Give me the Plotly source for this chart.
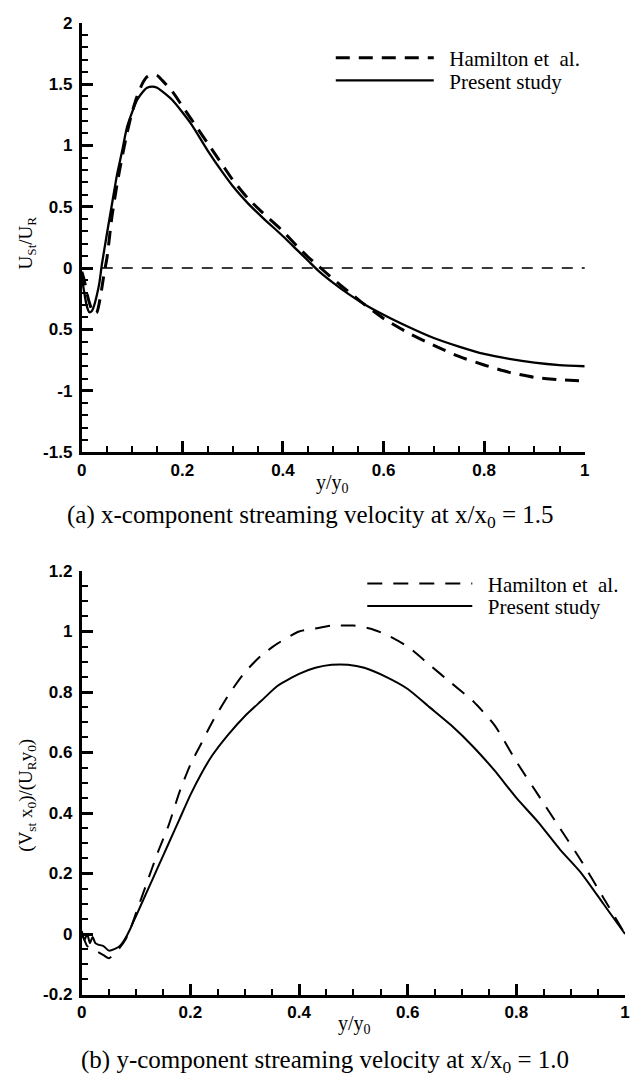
import plotly.graph_objects as go

W, H = 634, 1089

# ---------------- data: panel (a) x-component, x/x0 = 1.5 ----------------
a_ham_x = [0, 0.005, 0.01, 0.015, 0.02, 0.025, 0.03, 0.035, 0.04, 0.045, 0.05, 0.06, 0.07, 0.08,
           0.09, 0.10, 0.11, 0.12, 0.13, 0.14, 0.15, 0.16, 0.18, 0.20, 0.22, 0.25, 0.28, 0.30,
           0.33, 0.36, 0.40, 0.43, 0.45, 0.47, 0.50, 0.53, 0.56, 0.60, 0.65, 0.70, 0.75, 0.80,
           0.85, 0.90, 0.95, 1.0]
a_ham_y = [-0.03, -0.10, -0.20, -0.28, -0.34, -0.37, -0.36, -0.28, -0.16, -0.03, 0.08, 0.42, 0.68, 0.90,
           1.10, 1.27, 1.40, 1.50, 1.56, 1.58, 1.57, 1.53, 1.44, 1.32, 1.20, 1.02, 0.84, 0.72,
           0.57, 0.45, 0.30, 0.17, 0.09, 0.02, -0.09, -0.19, -0.29, -0.41, -0.53, -0.63, -0.72, -0.79,
           -0.85, -0.89, -0.91, -0.92]

a_pre_x = [0, 0.005, 0.01, 0.015, 0.02, 0.025, 0.03, 0.035, 0.04, 0.05, 0.06, 0.07, 0.08, 0.09,
           0.10, 0.11, 0.12, 0.13, 0.14, 0.15, 0.16, 0.18, 0.20, 0.22, 0.25, 0.28, 0.30, 0.33,
           0.36, 0.40, 0.43, 0.45, 0.47, 0.50, 0.53, 0.56, 0.60, 0.65, 0.70, 0.75, 0.80, 0.85,
           0.90, 0.95, 1.0]
a_pre_y = [-0.07, -0.20, -0.31, -0.36, -0.35, -0.30, -0.22, -0.12, 0.03, 0.28, 0.52, 0.76, 0.95, 1.15,
           1.27, 1.37, 1.43, 1.47, 1.48, 1.47, 1.44, 1.37, 1.27, 1.16, 0.96, 0.78, 0.67, 0.53,
           0.41, 0.26, 0.14, 0.06, -0.02, -0.12, -0.21, -0.29, -0.38, -0.48, -0.57, -0.64, -0.70, -0.74,
           -0.77, -0.79, -0.80]

# ---------------- data: panel (b) y-component, x/x0 = 1.0 ----------------
b_ham_x = [0, 0.005, 0.01, 0.02, 0.03, 0.04, 0.05, 0.06, 0.07, 0.08, 0.09, 0.10, 0.12, 0.14,
           0.16, 0.18, 0.20, 0.22, 0.24, 0.27, 0.30, 0.33, 0.36, 0.40, 0.43, 0.46, 0.48, 0.50,
           0.53, 0.56, 0.60, 0.64, 0.68, 0.72, 0.76, 0.80, 0.84, 0.88, 0.92, 0.96, 1.0]
b_ham_y = [0.0, -0.02, -0.04, -0.05, -0.06, -0.07, -0.08, -0.065, -0.045, -0.02, 0.02, 0.07, 0.17, 0.27,
           0.36, 0.47, 0.56, 0.63, 0.70, 0.79, 0.865, 0.92, 0.96, 1.0, 1.01, 1.02, 1.02, 1.02,
           1.01, 0.99, 0.95, 0.89, 0.83, 0.77, 0.69, 0.57, 0.46, 0.35, 0.24, 0.12, 0.0]

b_pre_x = [0, 0.005, 0.01, 0.015, 0.02, 0.025, 0.03, 0.04, 0.05, 0.06, 0.07, 0.08, 0.09, 0.10,
           0.12, 0.14, 0.16, 0.18, 0.20, 0.22, 0.24, 0.27, 0.30, 0.33, 0.36, 0.40, 0.43, 0.46,
           0.49, 0.52, 0.56, 0.60, 0.64, 0.68, 0.72, 0.76, 0.80, 0.84, 0.88, 0.92, 0.96, 1.0]
b_pre_y = [0.01, -0.02, 0.0, -0.03, -0.01, -0.03, -0.035, -0.04, -0.055, -0.05, -0.04, -0.015, 0.02, 0.06,
           0.14, 0.22, 0.30, 0.38, 0.46, 0.53, 0.59, 0.66, 0.72, 0.77, 0.82, 0.86, 0.88, 0.89,
           0.89, 0.88, 0.85, 0.81, 0.75, 0.69, 0.62, 0.54, 0.45, 0.37, 0.28, 0.20, 0.10, 0.0]

# ---------------- names and tick labels ----------------
series_names = ["Hamilton et\u00a0 al.", "Present study"]
x_tickvals = [0, 0.2, 0.4, 0.6, 0.8, 1.0]
x_ticktext = ["0", "0.2", "0.4", "0.6", "0.8", "1"]
a_y_tickvals = [-1.5, -1.0, -0.5, 0.0, 0.5, 1.0, 1.5, 2.0]
a_y_ticktext = ["-1.5", "-1", "0.5", "0", "0.5", "1", "1.5", "2"]
b_y_tickvals = [-0.2, 0.0, 0.2, 0.4, 0.6, 0.8, 1.0, 1.2]
b_y_ticktext = ["-0.2", "0", "0.2", "0.4", "0.6", "0.8", "1", "1.2"]

x_minor = [round(0.05 * i, 2) for i in range(21)]
a_y_minor = [round(-1.5 + 0.1 * i, 2) for i in range(36)]
b_y_minor = [round(-0.2 + 0.05 * i, 2) for i in range(29)]

SERIF = "Liberation Serif, Times New Roman, serif"
SANS = "Liberation Sans, Arial, sans-serif"
GAP = "\u00a0\u00a0"  # spacing between legend sample and its text


def px(x):
    return x / W


def py(y):
    return 1 - y / H


fig = go.Figure()

fig.add_trace(go.Scatter(x=a_ham_x, y=a_ham_y, mode="lines", name=GAP + series_names[0],
                         line=dict(color="black", width=3, dash="14px,9px", shape="spline", smoothing=0.6),
                         xaxis="x", yaxis="y", legend="legend"))
fig.add_trace(go.Scatter(x=a_pre_x, y=a_pre_y, mode="lines", name=GAP + series_names[1],
                         line=dict(color="black", width=2.3, shape="spline", smoothing=0.6),
                         xaxis="x", yaxis="y", legend="legend2"))
fig.add_trace(go.Scatter(x=b_ham_x, y=b_ham_y, mode="lines", name=GAP + series_names[0],
                         line=dict(color="black", width=2, dash="15px,11px", shape="spline", smoothing=0.6),
                         xaxis="x2", yaxis="y2", legend="legend3"))
fig.add_trace(go.Scatter(x=b_pre_x, y=b_pre_y, mode="lines", name=GAP + series_names[1],
                         line=dict(color="black", width=2, shape="spline", smoothing=0.6),
                         xaxis="x2", yaxis="y2", legend="legend4"))

tickfont = dict(family=SANS, size=17, color="black", weight="bold")


def xaxis_cfg(domain, anchor):
    return dict(domain=domain, range=[0, 1], anchor=anchor, showline=True, linewidth=3,
                linecolor="black", mirror=False, showgrid=False, zeroline=False,
                ticks="inside", ticklen=11, tickwidth=3, tickcolor="black",
                tickmode="array", tickvals=x_tickvals, ticktext=x_ticktext, tickfont=tickfont,
                ticklabeloverflow="allow",
                minor=dict(tickmode="array", tickvals=x_minor, ticks="inside", ticklen=6,
                           tickwidth=2, tickcolor="black", showgrid=False))


def yaxis_cfg(domain, anchor, rng, tv, tt, minor):
    return dict(domain=domain, range=rng, anchor=anchor, showline=True, linewidth=3,
                linecolor="black", mirror=False, showgrid=False, zeroline=False,
                ticks="inside", ticklen=11, tickwidth=3, tickcolor="black",
                tickmode="array", tickvals=tv, ticktext=tt, tickfont=tickfont,
                ticklabelstandoff=3,
                minor=dict(tickmode="array", tickvals=minor, ticks="inside", ticklen=6,
                           tickwidth=2, tickcolor="black", showgrid=False))


legend_common = dict(bgcolor="rgba(0,0,0,0)", borderwidth=0, xanchor="left", yanchor="middle",
                     font=dict(family=SERIF, size=21, color="black"))

fig.update_layout(
    width=W, height=H, margin=dict(l=0, r=0, t=0, b=0),
    paper_bgcolor="white", plot_bgcolor="white", showlegend=True,
    xaxis=xaxis_cfg([px(78), px(589)], "y"),
    yaxis=yaxis_cfg([py(451), py(14)], "x", [-1.5, 2], a_y_tickvals, a_y_ticktext, a_y_minor),
    xaxis2=xaxis_cfg([px(78), px(630)], "y2"),
    yaxis2=yaxis_cfg([py(1003), py(572)], "x2", [-0.2, 1.2], b_y_tickvals, b_y_ticktext, b_y_minor),
    legend=dict(x=px(331), y=py(50), itemwidth=98, **legend_common),
    legend2=dict(x=px(331), y=py(73), itemwidth=98, **legend_common),
    legend3=dict(x=px(363), y=py(585), itemwidth=105, **legend_common),
    legend4=dict(x=px(363), y=py(608), itemwidth=105, **legend_common),
)

# zero reference line in panel (a)
fig.add_shape(type="line", xref="x domain", yref="y", x0=0, x1=1, y0=0, y1=0,
              line=dict(color="#3a3a3a", width=2, dash="11px,9px"), layer="below")

annots = [
    dict(text="U<sub>St</sub>/U<sub>R</sub>", x=px(22), y=py(238), textangle=-90, size=19),
    dict(text="y/y<sub>0</sub>", x=px(333), y=py(483), textangle=0, size=20),
    dict(text="(V<sub>st</sub> x<sub>0</sub>)/(U<sub>R</sub>y<sub>0</sub>)", x=px(22), y=py(800),
         textangle=-90, size=19),
    dict(text="y/y<sub>0</sub>", x=px(355), y=py(1034), textangle=0, size=20),
]
for a in annots:
    fig.add_annotation(text=a["text"], x=a["x"], y=a["y"], xref="paper", yref="paper",
                       xanchor="center", yanchor="middle", textangle=a["textangle"], showarrow=False,
                       font=dict(family=SERIF, size=a["size"], color="black"))

captions = [
    dict(text="(a) x-component streaming velocity at x/x<sub>0</sub> = 1.5", x=px(310), y=py(517)),
    dict(text="(b) y-component streaming velocity at x/x<sub>0</sub> = 1.0", x=px(325), y=py(1071)),
]
for c in captions:
    fig.add_annotation(text=c["text"], x=c["x"], y=c["y"], xref="paper", yref="paper",
                       xanchor="center", yanchor="middle", showarrow=False,
                       font=dict(family=SERIF, size=25, color="black"))

# remove the browser's default page margin so the figure sits at the window's top-left corner
fig.write_html("out.html", config={"displayModeBar": False},
               post_script="document.body.style.margin='0';document.body.style.overflow='hidden';")
